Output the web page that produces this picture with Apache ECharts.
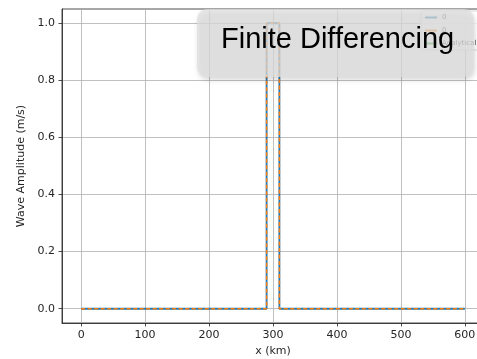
<!DOCTYPE html>
<html>
<head>
<meta charset="utf-8">
<script src="https://cdn.jsdelivr.net/npm/echarts@6/dist/echarts.min.js"></script>
<style>html,body{margin:0;padding:0;background:#fff}#c{width:477px;height:359px}</style>
</head>
<body>
<div id="c"></div>
<script>
// ---- data ----
const xKm = [0, 290, 290, 310, 310, 600];
const numericalA = [0, 0, 1, 1, 0, 0];
const numericalB = [0, 0, 1, 1, 0, 0];
const xTicks = [0, 100, 200, 300, 400, 500, 600];
const yTicks = [0, 0.2, 0.4, 0.6, 0.8, 1.0];
const legendLabels = ['0', '0', 'Analytical'];
const seriesNames = ['numA', 'numB', 'Analytical'];
const overlayTitle = 'Finite Differencing';

const chart = echarts.init(document.getElementById('c'), null, {renderer: 'canvas'});
const font = 'DejaVu Sans';
const pairs = (xs, ys) => xs.map((x, i) => [x, ys[i]]);
const labelMap = {};
seriesNames.forEach((n, i) => labelMap[n] = legendLabels[i]);

chart.setOption({
  animation: false,
  backgroundColor: '#fff',
  grid: {left: 62, top: 9, width: 422, height: 314, outerBoundsMode: 'none', containLabel: false,
    show: true, borderColor: '#222', borderWidth: 0.8, backgroundColor: 'transparent'},
  xAxis: {
    type: 'value', min: -30, max: 630,
    name: 'x (km)', nameLocation: 'middle', nameGap: 21,
    nameTextStyle: {fontFamily: font, fontSize: 11, color: '#262626'},
    axisLine: {show: true, onZero: false, lineStyle: {color: '#222', width: 0.8}},
    axisTick: {show: true, length: 3.5, customValues: xTicks, lineStyle: {color: '#222', width: 0.8}},
    axisLabel: {customValues: xTicks, margin: 7, fontFamily: font, fontSize: 11, color: '#262626'},
    splitLine: {show: true, lineStyle: {color: '#b0b0b0', width: 0.8}}
  },
  yAxis: {
    type: 'value', min: -0.05, max: 1.05,
    name: 'Wave Amplitude (m/s)', nameLocation: 'middle', nameGap: 34,
    nameTextStyle: {fontFamily: font, fontSize: 11, color: '#262626'},
    axisLine: {show: true, onZero: false, lineStyle: {color: '#222', width: 0.8}},
    axisTick: {show: true, length: 3.5, customValues: yTicks, lineStyle: {color: '#222', width: 0.8}},
    axisLabel: {customValues: yTicks, margin: 7, fontFamily: font, fontSize: 11, color: '#262626',
      formatter: v => v.toFixed(1)},
    splitLine: {show: true, lineStyle: {color: '#b0b0b0', width: 0.8}}
  },
  legend: {
    orient: 'vertical', left: 421, top: 11,
    data: seriesNames,
    formatter: n => labelMap[n],
    itemWidth: 12, itemHeight: 2, itemGap: 6,
    icon: 'rect',
    textStyle: {fontFamily: font, fontSize: 7, color: '#444'},
    backgroundColor: 'rgba(255,255,255,0.8)', borderColor: '#d0d0d0', borderWidth: 0.8,
    borderRadius: 2, padding: [3, 4, 3, 4]
  },
  series: [
    {name: seriesNames[0], type: 'line', data: pairs(xKm, numericalA), showSymbol: false, symbol: 'none',
      lineStyle: {color: '#1f77b4', width: 1.8}, itemStyle: {color: '#1f77b4'}, z: 3},
    {name: seriesNames[1], type: 'line', data: pairs(xKm, numericalB), showSymbol: false, symbol: 'none',
      lineStyle: {color: '#ff7f0e', width: 1.5, type: [4, 2.5]}, itemStyle: {color: '#ff7f0e'}, z: 4},
    {name: seriesNames[2], type: 'line', data: [], showSymbol: false, symbol: 'none',
      lineStyle: {color: '#2ca02c', width: 1.5}, itemStyle: {color: '#2ca02c'}, z: 2}
  ],
  graphic: [{
    type: 'group', z: 100, zlevel: 1,
    children: [
      {type: 'rect', zlevel: 1, z: 100, shape: {x: 197, y: 9, width: 277, height: 68, r: 10},
        style: {fill: 'rgba(222,222,222,0.74)', shadowBlur: 5, shadowOffsetX: 1, shadowOffsetY: 3, shadowColor: 'rgba(0,0,0,0.2)'}},
      {type: 'text', zlevel: 1, z: 101, x: 221, y: 40,
        style: {text: overlayTitle, fontFamily: 'Liberation Sans, Arial', fontSize: 29, fill: '#000', verticalAlign: 'middle', align: 'left'}}
    ]
  }]
});
</script>
</body>
</html>
